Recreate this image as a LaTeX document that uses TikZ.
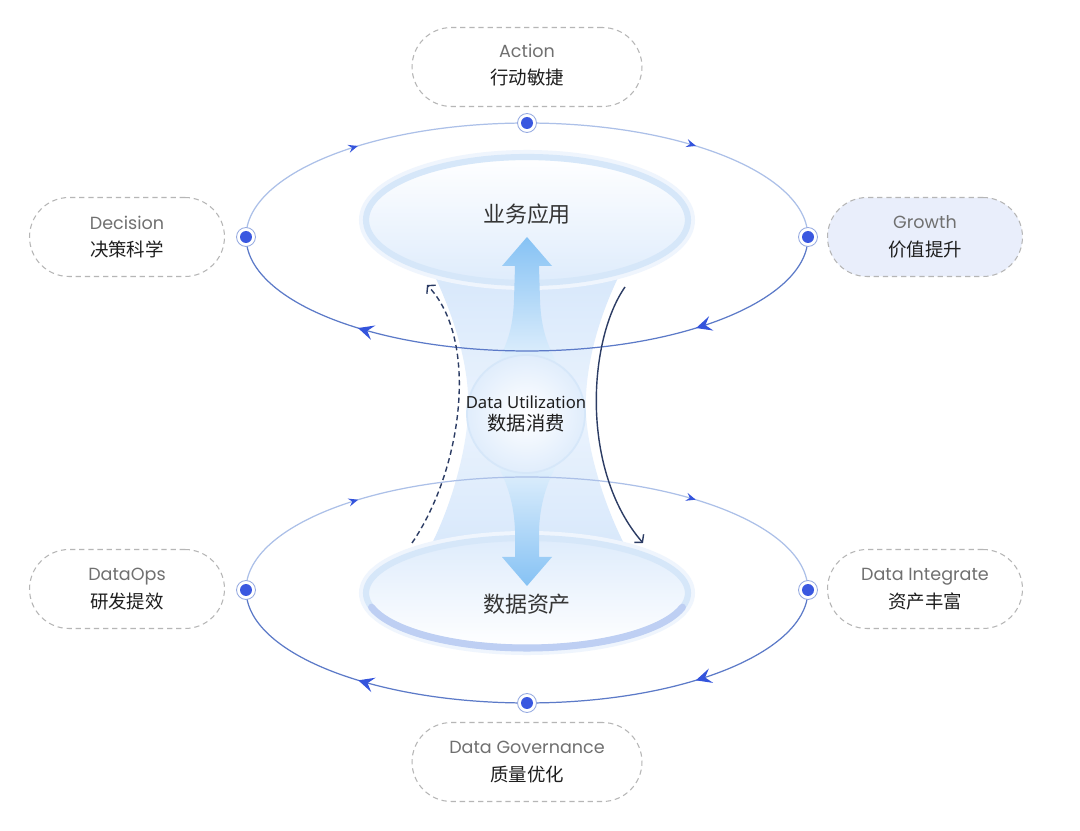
\documentclass[tikz,border=0pt]{standalone}
\usepackage{fontspec}
\setmainfont{Poppins}
\newfontfamily\cjk{Noto Sans CJK SC}
\newfontfamily\plainsans{Noto Sans}
\usepackage{tikz}
\usetikzlibrary{arrows.meta, positioning, shapes.geometric, decorations.markings, calc}
\usepackage{xcolor}
\definecolor{dotblue}{RGB}{58,88,224}
\definecolor{ringblue}{RGB}{150,170,225}
\definecolor{orbittop}{RGB}{172,192,232}
\definecolor{orbitbot}{RGB}{92,122,200}
\definecolor{tipblue}{RGB}{52,84,220}
\definecolor{boxgray}{RGB}{182,182,182}
\definecolor{engray}{RGB}{112,112,112}
\definecolor{zhblack}{RGB}{30,30,30}
\definecolor{haze}{RGB}{214,231,251}
\definecolor{ringglow}{RGB}{214,231,249}
\definecolor{ringdeep}{RGB}{190,207,243}
\definecolor{shaftblue}{RGB}{134,194,244}
\definecolor{navyline}{RGB}{44,60,100}
\definecolor{growthfill}{RGB}{233,238,251}

\newcommand{\twolines}[2]{{\color{engray}\fontsize{10}{12}\selectfont #1}\\[3.6pt]{\cjk\color{zhblack}\fontsize{10.5}{12}\selectfont #2}}

\tikzset{
  pill/.style={draw=boxgray, dash pattern=on 3pt off 2.2pt, line width=0.6pt, rounded corners=0.79cm,
    minimum height=1.58cm, align=center, inner sep=0pt, fill=white},
  widepill/.style={pill, minimum width=4.6cm},
  sidepill/.style={pill, minimum width=3.9cm},
  marker/.style={circle, draw=ringblue, line width=0.5pt, fill=white, minimum size=0.38cm, inner sep=0pt,
    path picture={\fill[dotblue] (path picture bounding box.center) circle (0.12cm);}},
  orbit top/.style={draw=orbittop, line width=0.7pt, postaction={decorate},
    decoration={markings,
      mark=at position 0.236 with {\arrow[tipblue]{Stealth[length=5.5pt, width=4.6pt, inset=2pt]}},
      mark=at position 0.764 with {\arrow[tipblue]{Stealth[length=5.5pt, width=4.6pt, inset=2pt]}}}},
  orbit bottom/.style={draw=orbitbot, line width=0.7pt, postaction={decorate},
    decoration={markings,
      mark=at position 0.236 with {\arrow[tipblue]{Stealth[length=9pt, width=8.5pt, inset=3.5pt]}},
      mark=at position 0.764 with {\arrow[tipblue]{Stealth[length=9pt, width=8.5pt, inset=3.5pt]}}}},
  ring/.style={ellipse, draw=ringglow, line width=3.5pt, outer sep=0pt, inner sep=0pt,
    preaction={draw=ringglow!40, line width=8pt}},
  feedback/.style={navyline, line width=0.8pt, dash pattern=on 3pt off 2pt, -{Straight Barb[length=3pt, width=7pt]}},
  supply/.style={navyline, line width=0.8pt, -{Straight Barb[length=3pt, width=7pt]}}
}

\begin{document}
\begin{tikzpicture}[x=0.02cm, y=-0.02cm]
  \fill[white] (0,0) rectangle (1080,831);
  \useasboundingbox (0,0) rectangle (1080,831);

  % haze between the two layers
  \shade[top color=haze, bottom color=haze, middle color=haze!50]
    (428,262) .. controls (462,330) and (470,380) .. (468,414)
    .. controls (466,455) and (448,520) .. (420,565) -- (636,565)
    .. controls (608,520) and (588,455) .. (586,414)
    .. controls (584,375) and (595,320) .. (626,262) -- cycle;

  \node[ring, minimum width=6.44cm, minimum height=2.52cm, top color=white, bottom color=haze!80] (apps) at (527,220) {};
  \node[ring, minimum width=6.44cm, minimum height=2.2cm, top color=haze!80, bottom color=white] (assets) at (527,593) {};
  \draw[ringdeep, line width=4pt, line cap=round] (527,593) ++(195:3.22cm and 1.1cm) arc[start angle=195, end angle=345, x radius=3.22cm, y radius=1.1cm];
  \node[font=\cjk\fontsize{12.5}{14}\selectfont, text=zhblack!90] at (527,214) {业务应用};
  \node[font=\cjk\fontsize{12.5}{14}\selectfont, text=zhblack!90] at (527,604) {数据资产};

  % thick arrows
  \shade[top color=shaftblue, bottom color=shaftblue!25]
    (527,237) -- (552,266) -- (539,266) -- (540,300) .. controls (541,330) and (548,345) .. (556,362)
    -- (498,362) .. controls (506,345) and (513,330) .. (514,300) -- (515,266) -- (502,266) -- cycle;
  \shade[top color=shaftblue!25, bottom color=shaftblue]
    (498,466) .. controls (508,485) and (514,505) .. (515,530) -- (515,557) -- (502,557) -- (527,586)
    -- (552,557) -- (539,557) -- (539,530) .. controls (540,505) and (546,485) .. (556,466) -- cycle;

  \node[circle, minimum size=2.36cm, inner sep=0pt, draw=ringglow, line width=1pt, inner color=white, outer color=haze!75] (util) at (526,414) {};
  \node[align=center, text=zhblack] (utilText) at (util.center)
    {{\plainsans\fontsize{9.5}{11}\selectfont Data Utilization}\\[0.5pt]{\cjk\fontsize{11}{12}\selectfont 数据消费}};

  % orbits
  \draw[orbit top] (246,237) arc[start angle=180, end angle=0, x radius=5.62cm, y radius=2.28cm];
  \draw[orbit bottom] (808,237) arc[start angle=360, end angle=180, x radius=5.62cm, y radius=2.28cm];
  \draw[orbit top] (246,590) arc[start angle=180, end angle=0, x radius=5.62cm, y radius=2.26cm];
  \draw[orbit bottom] (808,590) arc[start angle=360, end angle=180, x radius=5.62cm, y radius=2.26cm];

  \coordinate (useStart) at (412,543);
  \coordinate (useEnd) at (427,285);
  \coordinate (supStart) at (625,287);
  \coordinate (supEnd) at (643,543);
  \draw[feedback] (useStart) .. controls (462,470) and (480,340) .. (useEnd);
  \draw[supply] (supStart) .. controls (588,340) and (580,470) .. (supEnd);

  \node[marker] (mAction) at (527,123) {};
  \node[marker] (mDecision) at (246,237) {};
  \node[marker] (mGrowth) at (808,237) {};
  \node[marker] (mOps) at (246,590) {};
  \node[marker] (mIntegrate) at (808,590) {};
  \node[marker] (mGovern) at (527,703) {};

  \node[widepill] (action) at (527,67) {\twolines{Action}{行动敏捷}\rule[-3pt]{0pt}{3pt}};
  \node[sidepill] (decision) at (127,237) {\twolines{Decision}{决策科学}};
  \node[sidepill, fill=growthfill] (growth) at (925,237) {\twolines{Growth}{价值提升}};
  \node[sidepill] (dataops) at (127,589) {\twolines{DataOps}{研发提效}};
  \node[sidepill] (integrate) at (925,589) {\twolines{Data Integrate}{资产丰富}};
  \node[widepill] (governance) at (527,762) {\twolines{Data Governance}{质量优化}};
\end{tikzpicture}
\end{document}
